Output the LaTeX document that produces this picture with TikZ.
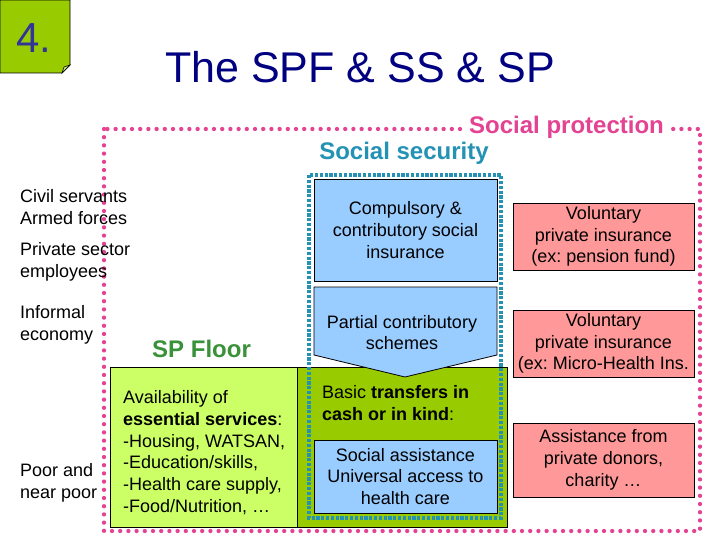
\documentclass[tikz,border=0pt]{standalone}
\usepackage{fontspec}
\setmainfont{Liberation Sans}
\frenchspacing
\definecolor{dgreen}{RGB}{153,204,0}
\definecolor{lgreen}{RGB}{204,255,102}
\definecolor{lblue}{RGB}{153,204,255}
\definecolor{lpink}{RGB}{255,153,153}
\definecolor{navyc}{RGB}{0,0,128}
\definecolor{numc}{RGB}{51,51,153}
\definecolor{floorc}{RGB}{57,145,57}
\definecolor{tealc}{RGB}{36,146,180}
\definecolor{pinkc}{RGB}{228,66,146}
\tikzset{
  txt/.style={font=\fontsize{18}{21.7}\selectfont, inner sep=0pt},
  lbl/.style={txt, align=left, anchor=west},
  bluebox/.style={draw=black, fill=lblue, line width=0.8pt},
  pinkbox/.style={draw=black, fill=lpink, line width=0.8pt, minimum width=181pt, inner sep=2pt, align=center, font=\fontsize{18}{21.7}\selectfont},
  bigtxt/.style={font=\fontsize{24}{28}\selectfont\bfseries, inner sep=0pt, anchor=base},
}
\begin{document}
\begin{tikzpicture}[x=1pt,y=-1pt]
\useasboundingbox[fill=white] (0,0) rectangle (720,540);

% number tab
\draw[fill=dgreen, line width=0.8pt] (0,0) -- (70,0) -- (70,65) -- (62,73) -- (0,73) -- cycle;
\draw[fill=dgreen!55!white, line width=0.6pt] (62,73) -- (64,67) -- (70,65) -- cycle;
\node[font=\fontsize{42}{48}\selectfont, text=numc, inner sep=0pt, anchor=base] (num) at (34,53) {4.};

% title
\node[font=\fontsize{43}{50}\selectfont, text=navyc, inner sep=0pt, anchor=base] (title) at (360,83) {The SPF \& SS \& SP};

% social protection frame
\draw[pinkc, line width=4.3pt, line cap=round, dash pattern=on 0pt off 8.2pt] (104,129) rectangle (700,531);
\node[bigtxt, text=pinkc, fill=white, inner xsep=4pt, inner ysep=2pt] (sprot) at (566.5,134) {Social protection};

% SP floor boxes
\draw[fill=lgreen, line width=0.8pt] (110,367) rectangle (297,527);
\draw[fill=dgreen, line width=0.8pt] (297,367) rectangle (507,527);
\node[bigtxt, text=floorc, anchor=base west] (floor) at (152,357) {SP Floor};

% social security frame
\draw[tealc, line width=3.4pt, dash pattern=on 3.2pt off 1.6pt] (309,175) rectangle (501,518);
\node[bigtxt, text=tealc] (ssec) at (404,160) {Social security};

% blue boxes
\node[bluebox, minimum width=183pt, minimum height=102pt, align=center, txt] (csi) at (405.5,230) {Compulsory \&\\contributory social\\insurance};
\draw[bluebox] (314,287) -- (497,287) -- (497,355) -- (405,377) -- (314,355) -- cycle;
\node[txt, align=center] (pcs) at (402,332.5) {Partial contributory\\schemes};
\node[bluebox, minimum width=183pt, minimum height=73pt, align=center, txt] (sa) at (405.5,476.5) {Social assistance\\Universal access to\\health care};

% green texts
\node[lbl] (ess) at (123,452.5) {Availability of\\\textbf{essential services}:\\-Housing, WATSAN,\\-Education/skills,\\-Health care supply,\\-Food/Nutrition, \dots};
\node[lbl] (btr) at (322,403) {Basic \textbf{transfers in}\\\textbf{cash or in kind}:};

% pink boxes
\node[pinkbox, minimum height=67pt] (vp1) at (603.5,236.5) {Voluntary\\private insurance\\(ex: pension fund)};
\node[pinkbox, minimum height=67pt] (vp2) at (603.5,343.5) {Voluntary\\private insurance\\(ex: Micro-Health Ins.};
\node[pinkbox, minimum height=74pt] (apd) at (603.5,460) {Assistance from\\private donors,\\charity …};

% left labels
\node[lbl] (civ) at (20,207) {Civil servants\\Armed forces};
\node[lbl] (pse) at (20,261.5) {Private sector\\employees};
\node[lbl] (inf) at (20,324.5) {Informal\\economy};
\node[lbl] (poor) at (20,483) {Poor and\\near poor};
\end{tikzpicture}
\end{document}
